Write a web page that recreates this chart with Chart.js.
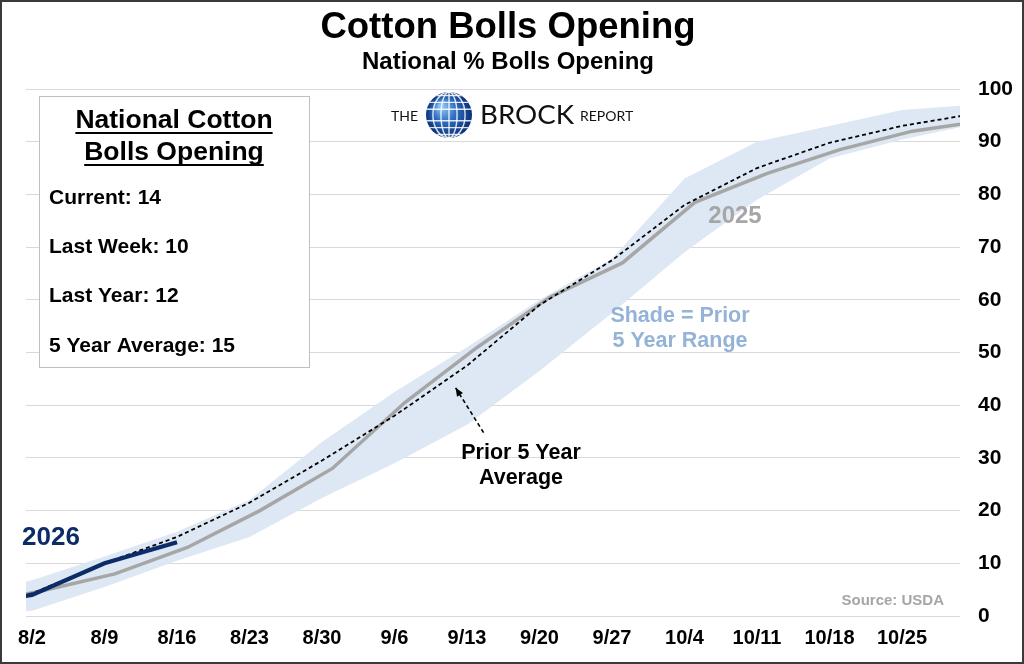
<!DOCTYPE html>
<html><head><meta charset="utf-8">
<script src="https://cdn.jsdelivr.net/npm/chart.js@4.4.1/dist/chart.umd.min.js"></script>
<style>html,body{margin:0;padding:0;background:#fff;overflow:hidden}canvas{display:block}</style>
</head><body>
<canvas id="c" width="1024" height="664"></canvas>
<script>
// ---- data ----
const tickLabels = ['8/2','8/9','8/16','8/23','8/30','9/6','9/13','9/20','9/27','10/4','10/11','10/18','10/25'];
const yTicks = [0,10,20,30,40,50,60,70,80,90,100];

const dates2026 = ['7/26','8/2','8/9','8/16'];
const values2026 = [2,4,10,14];

const dates2025 = ['7/27','8/3','8/10','8/17','8/24','8/31','9/7','9/14','9/21','9/28','10/5','10/12','10/19','10/26','11/2'];
const values2025 = [2,4.8,8,13,20,28,40.5,51,60.5,67,78.5,84,88.5,92,94];

const avgDates = ['7/26','8/2','8/9','8/16','8/23','8/30','9/6','9/13','9/20','9/27','10/4','10/11','10/18','10/25','11/1'];
const avgValues = [2,4.3,10,15,21.5,29.5,38,47.5,59,67.5,78,85,89.8,93,95.3];
const rangeHigh = [4,6.8,11.3,16,22,33,42.5,51,60,67.8,83,90,93,96,97];
const rangeLow  = [0,1,5.5,10.5,15,22.4,29,36.3,46.5,57.5,69,79,86.8,90.4,93.3];

// ---- helpers ----
function dayOf(s){const [m,d]=s.split('/').map(Number);return Math.round((Date.UTC(2026,m-1,d)-Date.UTC(2026,7,2))/864e5);}
function pts(dates, vals){return dates.map((d,i)=>({x:dayOf(d),y:vals[i]}));}

const FONT = "'Liberation Sans', Arial, Helvetica, sans-serif";
const LOGO = "Lato, 'Open Sans', sans-serif";

function fitText(c, t, x, y, w, font){
  c.font = '100px '+font; const k = w / c.measureText(t).width;
  c.font = (100*k).toFixed(1)+'px '+font; c.fillText(t,x,y);
}

const decor = {
  id:'decor',
  beforeDraw(chart){
    const c=chart.ctx; c.save(); c.fillStyle='#fff'; c.fillRect(0,0,chart.width,chart.height); c.restore();
  },
  afterDatasetsDraw(chart){
    const c=chart.ctx, xs=chart.scales.x, ys=chart.scales.y;
    c.save();
    // text box
    c.fillStyle='#fff'; c.fillRect(39.5,96.5,270,271);
    c.strokeStyle='#BFBFBF'; c.lineWidth=1; c.strokeRect(39.5,96.5,270,271);
    c.fillStyle='#000'; c.textAlign='center'; c.textBaseline='middle';
    c.font='bold 26.5px '+FONT;
    [['National Cotton',121],['Bolls Opening',153]].forEach(([t,y])=>{
      c.fillText(t,174,y); const w=c.measureText(t).width;
      c.fillRect(174-w/2,y+11,w,2);
    });
    c.textAlign='left'; c.font='bold 21px '+FONT;
    [['Current: 14',198],['Last Week: 10',247],['Last Year: 12',296],['5 Year Average: 15',346]].forEach(([t,y])=>c.fillText(t,49,y));

    // series labels
    c.font='bold 26px '+FONT; c.fillStyle='#0C2C67'; c.textAlign='left'; c.fillText('2026',22,538);
    c.font='bold 24px '+FONT; c.fillStyle='#A6A6A6'; c.textAlign='center'; c.fillText('2025',735,216);
    c.font='bold 21.5px '+FONT; c.fillStyle='#95B3D7';
    c.fillText('Shade = Prior',680,316); c.fillText('5 Year Range',680,341);
    c.fillStyle='#000'; c.font='bold 21.5px '+FONT;
    c.fillText('Prior 5 Year',521,453); c.fillText('Average',521,478);
    c.font='bold 15px '+FONT; c.fillStyle='#A6A6A6'; c.textAlign='right'; c.fillText('Source: USDA',944,601);

    // arrow
    const x1=xs.getPixelForValue(43.6), y1=ys.getPixelForValue(34.8);
    const x2=xs.getPixelForValue(40.9), y2=ys.getPixelForValue(43.3);
    c.strokeStyle='#000'; c.lineWidth=1.6; c.setLineDash([4,3]);
    c.beginPath(); c.moveTo(x1,y1); c.lineTo(x2,y2); c.stroke(); c.setLineDash([]);
    const ang=Math.atan2(y2-y1,x2-x1), L=9;
    c.fillStyle='#000'; c.beginPath(); c.moveTo(x2,y2);
    c.lineTo(x2-L*Math.cos(ang-0.4),y2-L*Math.sin(ang-0.4));
    c.lineTo(x2-L*Math.cos(ang+0.4),y2-L*Math.sin(ang+0.4)); c.closePath(); c.fill();

    // titles
    c.fillStyle='#000'; c.textAlign='center'; c.textBaseline='middle';
    c.font='bold 36.5px '+FONT; c.fillText('Cotton Bolls Opening',508,28);
    c.font='bold 24px '+FONT; c.fillText('National % Bolls Opening',508,62);

    // logo
    c.fillStyle='#fff'; c.fillRect(388,92,250,46);
    c.fillStyle='#111'; c.textAlign='left';
    fitText(c,'THE',391,116,27,LOGO);
    fitText(c,'BROCK',480,115,94,LOGO);
    fitText(c,'REPORT',580,116,53,LOGO);
    const gx=449, gy=115, r=23;
    const g=c.createRadialGradient(gx-8,gy-9,2,gx,gy,r);
    g.addColorStop(0,'#8FC3F0'); g.addColorStop(0.45,'#2F6FC0'); g.addColorStop(1,'#0A2F78');
    c.fillStyle=g; c.beginPath(); c.arc(gx,gy,r,0,Math.PI*2); c.fill();
    c.save(); c.beginPath(); c.arc(gx,gy,r,0,Math.PI*2); c.clip();
    c.strokeStyle='rgba(255,255,255,0.85)'; c.lineWidth=1.4;
    [-0.85,-0.55,-0.25,0.25,0.55,0.85].forEach(f=>{c.beginPath();c.moveTo(gx-r,gy+f*r);c.lineTo(gx+r,gy+f*r);c.stroke();});
    [0.35,0.7].forEach(f=>{c.beginPath();c.ellipse(gx,gy,r*f,r,0,0,Math.PI*2);c.stroke();});
    c.beginPath();c.moveTo(gx,gy-r);c.lineTo(gx,gy+r);c.stroke();
    c.restore();

    // outer border
    c.strokeStyle='#3A3A3A'; c.lineWidth=2; c.strokeRect(1,1,chart.width-2,chart.height-2);
    c.restore();
  }
};

new Chart(document.getElementById('c'),{
  type:'line',
  data:{datasets:[
    {label:'2026',data:pts(dates2026,values2026),borderColor:'#0C2C67',borderWidth:4.2,pointRadius:0,tension:0,order:0},
    {label:'Prior 5 Year Average',data:pts(avgDates,avgValues),borderColor:'#000',borderWidth:1.8,borderDash:[4,3],pointRadius:0,tension:0,order:1},
    {label:'2025',data:pts(dates2025,values2025),borderColor:'#A6A6A6',borderWidth:3.5,pointRadius:0,tension:0,order:2},
    {label:'High',data:pts(avgDates,rangeHigh),borderWidth:0,borderColor:'rgba(0,0,0,0)',backgroundColor:'#DDE8F4',fill:'+1',pointRadius:0,tension:0,order:3},
    {label:'Low',data:pts(avgDates,rangeLow),borderWidth:0,borderColor:'rgba(0,0,0,0)',pointRadius:0,tension:0,fill:false,order:4}
  ]},
  options:{
    responsive:false, animation:false, devicePixelRatio:1,
    layout:{padding:{left:26,top:89,right:0,bottom:0}},
    plugins:{legend:{display:false},tooltip:{enabled:false}},
    scales:{
      x:{type:'linear',min:-0.58,max:89.6,
        afterBuildTicks:s=>{s.ticks=tickLabels.map(l=>({value:dayOf(l)}));},
        afterFit:s=>{s.height=48;},
        grid:{display:false},border:{display:false},
        ticks:{color:'#000',font:{family:FONT,size:20,weight:'bold'},padding:2,maxRotation:0,autoSkip:false,
          callback:v=>{const i=tickLabels.findIndex(l=>dayOf(l)===v);return i>=0?tickLabels[i]:'';}}
      },
      y:{position:'right',min:0,max:100,
        afterBuildTicks:s=>{s.ticks=yTicks.map(v=>({value:v}));},
        afterFit:s=>{s.width=64;},
        grid:{color:'#D9D9D9',lineWidth:1,drawTicks:false},border:{display:false},
        ticks:{color:'#000',font:{family:FONT,size:21,weight:'bold'},padding:18}
      }
    }
  },
  plugins:[decor]
});
</script>
</body></html>
